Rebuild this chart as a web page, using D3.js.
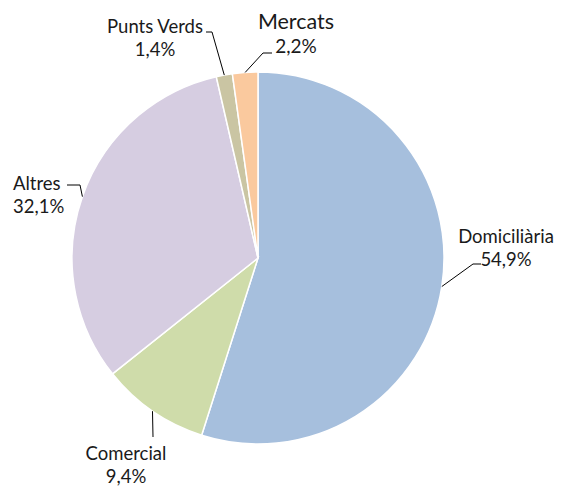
<!DOCTYPE html>
<html>
<head>
<meta charset="utf-8">
<script src="https://cdn.jsdelivr.net/npm/d3@7"></script>
<style>
  html, body { margin: 0; padding: 0; background: #fff; }
  svg { display: block; }
  text { font-family: Lato, "Open Sans", sans-serif; fill: #1a1a1a; }
</style>
</head>
<body>
<svg id="chart" width="562" height="490"></svg>
<script>
const categories = ["Domiciliària", "Comercial", "Altres", "Punts Verds", "Mercats"];
const values = [54.9, 9.4, 32.1, 1.4, 2.2];
const valueLabels = ["54,9%", "9,4%", "32,1%", "1,4%", "2,2%"];
const colors = ["#A6BFDD", "#CFDCAA", "#D6CDE1", "#CAC5A3", "#FAC99E"];

const svg = d3.select("#chart");
const cx = 258, cy = 258, r = 186;
const g = svg.append("g").attr("transform", `translate(${cx},${cy})`);

const pie = d3.pie().sort(null).value(d => d)(values);
const arc = d3.arc().innerRadius(0).outerRadius(r);

g.selectAll("path.slice").data(pie).enter().append("path")
  .attr("class", "slice")
  .attr("d", arc)
  .attr("fill", (d, i) => colors[i])
  .attr("stroke", "#fff")
  .attr("stroke-width", 1.5);

// label layout: text position, font sizes, leader elbow and end
const layout = [
  { x: 506, y: 243, size: 18.5, vsize: 18.5, anchor: "middle", elbow: [473, 264], end: [481, 264] },
  { x: 126, y: 460, size: 18.5, vsize: 18.5, anchor: "middle", elbow: [153, 437], end: [153, 437] },
  { x: 13,  y: 190, size: 18.5, vsize: 18.5, anchor: "start",  elbow: [80, 185],  end: [67, 185] },
  { x: 155, y: 33,  size: 18.5, vsize: 18.5, anchor: "middle", elbow: [212, 32],  end: [206, 32] },
  { x: 296, y: 29,  size: 21.5, vsize: 19,   anchor: "middle", elbow: [263, 53],  end: [272, 53] }
];

pie.forEach((d, i) => {
  const L = layout[i];
  const mid = (d.startAngle + d.endAngle) / 2;
  const px = cx + r * Math.sin(mid), py = cy - r * Math.cos(mid);
  svg.append("polyline")
    .attr("points", `${px},${py} ${L.elbow[0]},${L.elbow[1]} ${L.end[0]},${L.end[1]}`)
    .attr("fill", "none").attr("stroke", "#000").attr("stroke-width", 1);
  const t = svg.append("text")
    .attr("x", L.x).attr("y", L.y)
    .attr("text-anchor", L.anchor)
    .style("font-size", L.size + "px");
  t.append("tspan").attr("x", L.x).text(categories[i]);
  t.append("tspan").attr("x", L.x)
    .attr("dy", i === 4 ? 24 : 23).style("font-size", L.vsize + "px").text(valueLabels[i]);
});
</script>
</body>
</html>
